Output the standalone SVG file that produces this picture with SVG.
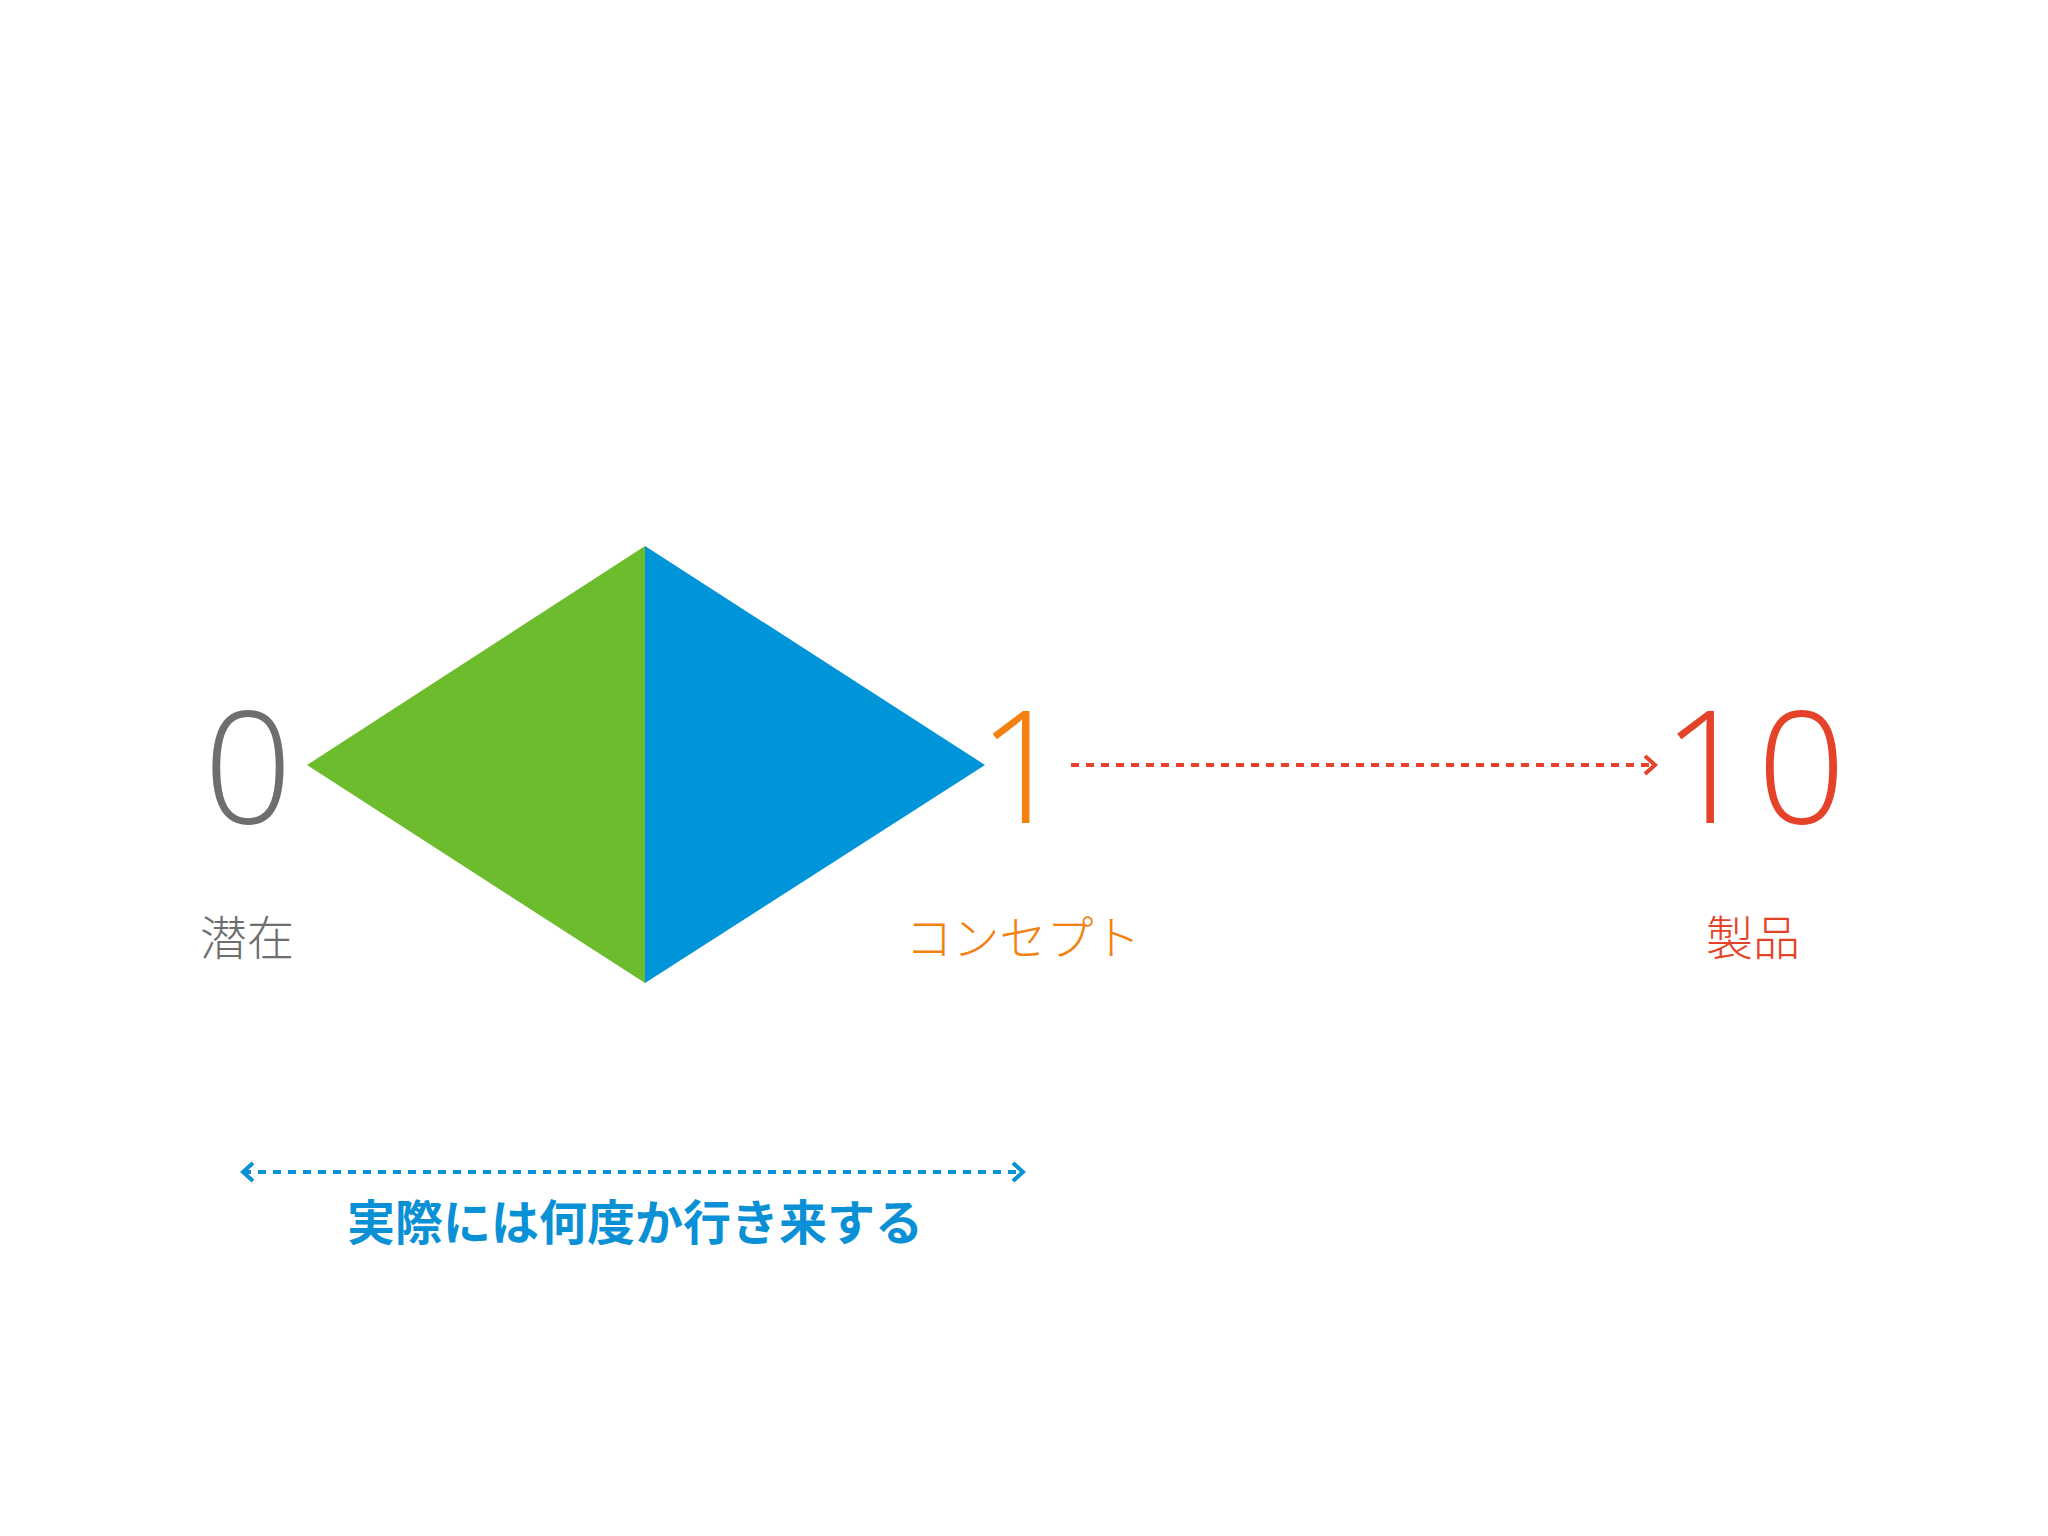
<svg xmlns="http://www.w3.org/2000/svg" width="2048" height="1536" viewBox="0 0 2048 1536">
  <style>
    .num { font-family: "Open Sans", Lato, "Liberation Sans", sans-serif; font-weight: 300; font-size: 156px; text-anchor: middle; }
    .lbl { font-family: "Noto Sans CJK JP", "Noto Sans", sans-serif; font-weight: 300; font-size: 47px; text-anchor: middle; }
    .note { font-family: "Noto Sans CJK JP", "Noto Sans", sans-serif; font-weight: 700; font-size: 48px; text-anchor: middle; fill: #0A90D4; }
    .gray { fill: #6E6E6E; }
    .orange { fill: #F4800F; }
    .red { fill: #E4432A; }
    .dash { fill: none; stroke-width: 4; stroke-dasharray: 8 7; }
  </style>
  <defs>
    <marker id="arrRed" markerUnits="userSpaceOnUse" markerWidth="16" markerHeight="24" refX="13" refY="12" orient="auto" viewBox="0 0 16 24">
      <path d="M3,3 L13,12 L3,21" fill="none" stroke="#E4432A" stroke-width="4"/>
    </marker>
    <marker id="arrBlue" markerUnits="userSpaceOnUse" markerWidth="16" markerHeight="24" refX="13" refY="12" orient="auto-start-reverse" viewBox="0 0 16 24">
      <path d="M3,3 L13,12 L3,21" fill="none" stroke="#0A90D4" stroke-width="4"/>
    </marker>
  </defs>
  <rect x="0" y="0" width="2048" height="1536" fill="#FFFFFF"/>

  <g id="diamond">
    <polygon points="645,546 307,765 645,983" fill="#6DBC2E"/>
    <polygon points="645,546 985,765 645,983" fill="#0095D9"/>
  </g>

  <g id="node-zero">
    <text class="num gray" x="248" y="823">0</text>
    <text class="lbl gray" x="247" y="955">潜在</text>
  </g>

  <g id="node-one">
    <text class="num orange" x="1022" y="823">1</text>
    <text class="lbl orange" x="1023" y="955">コンセプト</text>
  </g>

  <g id="node-ten">
    <text class="num red" x="1757" y="823" letter-spacing="6">10</text>
    <text class="lbl red" x="1753" y="955">製品</text>
  </g>

  <g id="connectors">
    <line x1="1071" y1="765" x2="1655" y2="765" class="dash" stroke="#E4432A" marker-end="url(#arrRed)"/>
    <line x1="243" y1="1172" x2="1023" y2="1172" class="dash" stroke="#0A90D4" marker-start="url(#arrBlue)" marker-end="url(#arrBlue)"/>
  </g>

  <g id="note">
    <text class="note" x="635" y="1240">実際には何度か行き来する</text>
  </g>
</svg>
